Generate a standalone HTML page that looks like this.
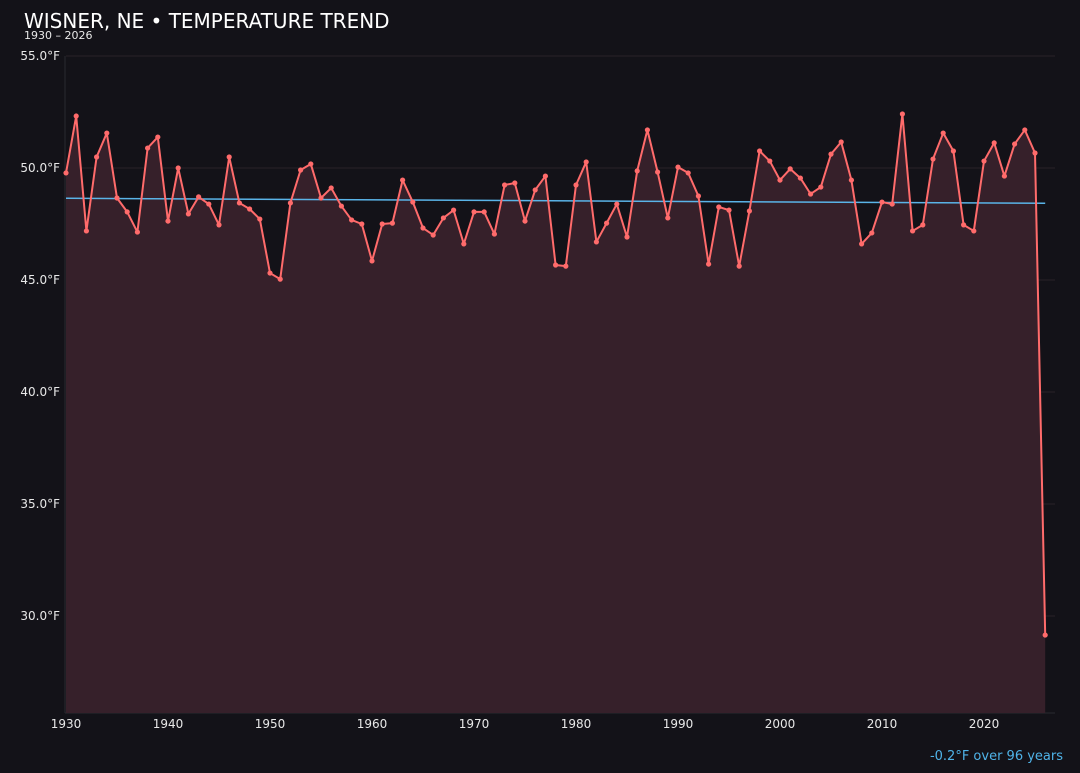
<!DOCTYPE html>
<html><head><meta charset="utf-8"><style>
html,body{margin:0;padding:0;background:#131218;}
body{width:1080px;height:768px;overflow:hidden;font-family:"Liberation Sans","DejaVu Sans",sans-serif;}
svg text{font-family:"DejaVu Sans","Liberation Sans",sans-serif;}
</style></head><body>
<svg id="chart" width="1080" height="768" xmlns="http://www.w3.org/2000/svg">
<rect width="1080" height="768" fill="#131218"/>
<text x="24" y="28" fill="#ffffff" font-size="20">WISNER, NE • TEMPERATURE TREND</text>
<text x="24" y="39" fill="#e8e8e8" font-size="11">1930 – 2026</text>
<g id="grid"></g><g id="yticks"></g><g id="xticks"></g><g id="series"></g>
<text id="trendLabel" x="1063" y="760" fill="#4fb3e8" font-size="13" text-anchor="end"></text>
</svg>
<script>
const startYear = 1930;
const temps = [49.78,52.32,47.19,50.49,51.56,48.66,48.04,47.14,50.89,51.38,
47.63,50.0,47.95,48.71,48.39,47.46,50.49,48.44,48.17,47.72,
45.31,45.04,48.44,49.91,50.18,48.66,49.11,48.30,47.68,47.5,
45.85,47.5,47.54,49.46,48.48,47.32,47.01,47.77,48.12,46.61,
48.04,48.04,47.05,49.24,49.33,47.63,49.02,49.64,45.67,45.62,
49.24,50.27,46.70,47.54,48.39,46.92,49.87,51.70,49.82,47.77,
50.04,49.78,48.75,45.71,48.26,48.12,45.62,48.08,50.76,50.31,
49.46,49.96,49.55,48.84,49.15,50.62,51.16,49.46,46.61,47.10,
48.48,48.39,52.41,47.19,47.46,50.40,51.56,50.76,47.46,47.19,
50.31,51.12,49.64,51.07,51.70,50.67,29.15];
const yTicks = [30,35,40,45,50,55];
const xTicks = [1930,1940,1950,1960,1970,1980,1990,2000,2010,2020];

const NS="http://www.w3.org/2000/svg";
const X0=66, PX=10.2, Y55=56, PY=22.4, YB=713, XR=1055;
function xs(yr){return X0+(yr-1930)*PX;}
function ys(t){return Y55+(55-t)*PY;}
function mk(tag,attrs,parent){const e=document.createElementNS(NS,tag);for(const k in attrs)e.setAttribute(k,attrs[k]);parent.appendChild(e);return e;}
const grid=document.getElementById('grid'),yt=document.getElementById('yticks'),xt=document.getElementById('xticks'),ser=document.getElementById('series');

yTicks.forEach(v=>{
  const l=mk('line',{x1:X0,x2:XR,y1:ys(v),y2:ys(v),stroke:'#2a2228','stroke-width':1},grid);
  
  
  const t=mk('text',{x:60,y:ys(v)+4,fill:'#e8e8e8','font-size':12,'text-anchor':'end'},yt);
  t.textContent=v.toFixed(1)+'°F';
  
  
});
const ax=mk('line',{x1:65,x2:65,y1:56,y2:YB,stroke:'#2a2a30','stroke-width':1},grid);


const bx=mk('line',{x1:65,x2:XR,y1:YB,y2:YB,stroke:'#2a2a30','stroke-width':1},grid);


xTicks.forEach(v=>{
  const t=mk('text',{x:xs(v),y:728,fill:'#e8e8e8','font-size':12,'text-anchor':'middle'},xt);
  t.textContent=v;
  
  
});

const pts=temps.map((t,i)=>[xs(startYear+i),ys(t)]);
let d='M'+pts[0][0]+','+YB+' '+pts.map(p=>'L'+p[0]+','+p[1]).join(' ')+' L'+pts[pts.length-1][0]+','+YB+' Z';
const area=mk('path',{d:d,fill:'#36202a'},ser);



// least-squares trend over all years
const n=temps.length;let sx=0,sy=0,sxy=0,sxx=0;
for(let i=0;i<n;i++){sx+=i;sy+=temps[i];sxy+=i*temps[i];sxx+=i*i;}
const slope=(n*sxy-sx*sy)/(n*sxx-sx*sx), icpt=(sy-slope*sx)/n;
const lastI=n-1;
const tr=mk('line',{x1:xs(startYear),y1:ys(icpt),x2:xs(startYear+lastI),y2:ys(icpt+slope*lastI),stroke:'#5ab4e8','stroke-width':1.5},ser);



const line=mk('polyline',{points:pts.map(p=>p.join(',')).join(' '),fill:'none',stroke:'#ff6b6b','stroke-width':2,'stroke-linejoin':'round'},ser);


pts.forEach(p=>{
  const c=mk('circle',{cx:p[0],cy:p[1],r:2.6,fill:'#ff6b6b'},ser);
  
  
});
const change=slope*lastI;
document.getElementById('trendLabel').textContent=(change>=0?'+':'')+change.toFixed(1)+'°F over '+lastI+' years';
</script>
</body></html>
